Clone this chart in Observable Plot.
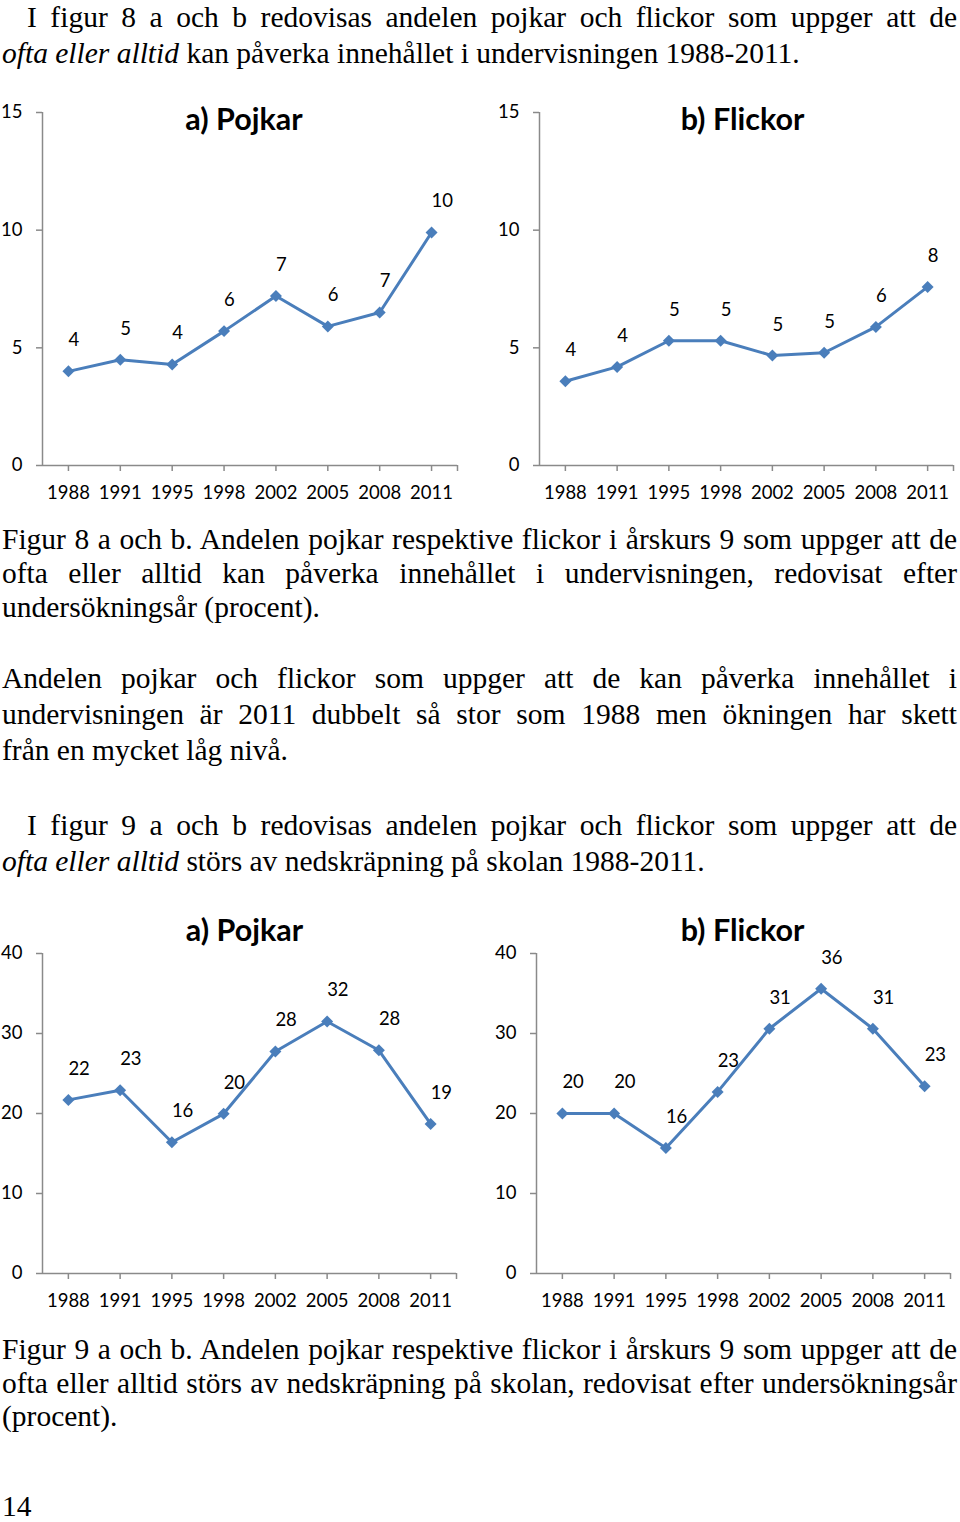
<!DOCTYPE html>
<html lang="sv">
<head>
<meta charset="utf-8">
<script src="https://cdn.jsdelivr.net/npm/d3@7"></script>
<script src="https://cdn.jsdelivr.net/npm/@observablehq/plot@0.6"></script>
<style>
  html, body { margin: 0; padding: 0; background: #fff; }
  #page { position: relative; width: 960px; height: 1522px; overflow: hidden;
          font-family: "Liberation Serif", "DejaVu Serif", serif; font-size: 29.5px; color: #000; }
  .blk { position: absolute; left: 2px; width: 955px; }
  .ln { white-space: nowrap; }
  .ind { padding-left: 25px; }
  .chart { position: absolute; width: 480px; height: 420px; }
  .chart svg { overflow: visible; }
</style>
</head>
<body>
<div id="page">
  <div class="blk" style="top:0px;line-height:35.5px;">
    <div class="ln j ind"><span>I figur 8 a och b redovisas andelen pojkar och flickor som uppger att de</span></div>
    <div class="ln"><span><i>ofta eller alltid</i> kan påverka innehållet i undervisningen 1988-2011.</span></div>
  </div>

  <div class="chart" id="c8a" style="left:0px;top:90px;"></div>
  <div class="chart" id="c8b" style="left:480px;top:90px;"></div>

  <div class="blk" style="top:522px;line-height:34px;">
    <div class="ln j"><span>Figur 8 a och b. Andelen pojkar respektive flickor i årskurs 9 som uppger att de</span></div>
    <div class="ln j"><span>ofta eller alltid kan påverka innehållet i undervisningen, redovisat efter</span></div>
    <div class="ln"><span>undersökningsår (procent).</span></div>
  </div>

  <div class="blk" style="top:660px;line-height:36px;">
    <div class="ln j"><span>Andelen pojkar och flickor som uppger att de kan påverka innehållet i</span></div>
    <div class="ln j"><span>undervisningen är 2011 dubbelt så stor som 1988 men ökningen har skett</span></div>
    <div class="ln"><span>från en mycket låg nivå.</span></div>
  </div>

  <div class="blk" style="top:807px;line-height:36px;">
    <div class="ln j ind"><span>I figur 9 a och b redovisas andelen pojkar och flickor som uppger att de</span></div>
    <div class="ln"><span><i>ofta eller alltid</i> störs av nedskräpning på skolan 1988-2011.</span></div>
  </div>

  <div class="chart" id="c9a" style="left:0px;top:900px;"></div>
  <div class="chart" id="c9b" style="left:480px;top:900px;"></div>

  <div class="blk" style="top:1333px;line-height:33.5px;">
    <div class="ln j"><span>Figur 9 a och b. Andelen pojkar respektive flickor i årskurs 9 som uppger att de</span></div>
    <div class="ln j"><span>ofta eller alltid störs av nedskräpning på skolan, redovisat efter undersökningsår</span></div>
    <div class="ln"><span>(procent).</span></div>
  </div>

  <div class="blk" style="top:1488px;line-height:36px;">
    <div class="ln"><span>14</span></div>
  </div>
</div>

<script>
// ---- data ----
const years = ["1988", "1991", "1995", "1998", "2002", "2005", "2008", "2011"];

const fig8Boys        = [4.0, 4.49, 4.29, 5.71, 7.2, 5.91, 6.5, 9.9];
const fig8BoysLabels  = [4, 5, 4, 6, 7, 6, 7, 10];
const fig8Girls       = [3.58, 4.19, 5.3, 5.3, 4.67, 4.79, 5.89, 7.59];
const fig8GirlsLabels = [4, 4, 5, 5, 5, 5, 6, 8];

const fig9Boys        = [21.7, 22.9, 16.4, 19.96, 27.75, 31.5, 27.9, 18.7];
const fig9BoysLabels  = [22, 23, 16, 20, 28, 32, 28, 19];
const fig9Girls       = [20.0, 20.0, 15.7, 22.7, 30.6, 35.6, 30.6, 23.4];
const fig9GirlsLabels = [20, 20, 16, 23, 31, 36, 31, 23];

const fig8Ticks = [0, 5, 10, 15];
const fig9Ticks = [0, 10, 20, 30, 40];
const titleBoys = "a) Pojkar";
const titleGirls = "b) Flickor";

// ---- chart ----
const gray = "#8a8a8a";
const blue = "#4A7EBB";

function lineChart(cfg) {
  const data = years.map((year, i) => ({i, year, value: cfg.values[i], label: String(cfg.labels[i])}));
  return Plot.plot({
    width: 480,
    height: 420,
    marginLeft: cfg.ml,
    marginRight: cfg.mr,
    marginTop: cfg.mt,
    marginBottom: cfg.mb,
    style: {fontFamily: "Lato, 'Open Sans', sans-serif", fontSize: "18.5px", background: "transparent", color: "#000", overflow: "visible"},
    x: {domain: [-0.5, years.length - 0.5]},
    y: {domain: [0, cfg.yMax]},
    marks: [
      Plot.axisY({ticks: cfg.yTicks, tickSize: 6, tickPadding: 14, stroke: gray, strokeWidth: 1.5, fill: "#000", label: null, tickFormat: d => String(d)}),
      Plot.axisX({ticks: [...d3.range(years.length), years.length - 0.5], tickFormat: i => years[i] ?? "", tickSize: 6, tickPadding: 14, stroke: gray, strokeWidth: 1.5, fill: "#000", label: null}),
      Plot.ruleX([-0.5], {stroke: gray, strokeWidth: 1.5}),
      Plot.ruleY([0], {stroke: gray, strokeWidth: 1.5}),
      Plot.line(data, {x: "i", y: "value", stroke: blue, strokeWidth: 3}),
      Plot.dot(data, {x: "i", y: "value", symbol: "diamond2", r: 5.4, fill: blue, stroke: "none"}),
      Plot.text(data, {x: "i", y: "value", text: "label", textAnchor: "start", dy: -31, fill: "#000"}),
      Plot.text([cfg.title], {frameAnchor: "top", lineAnchor: "middle", text: d => d, dx: cfg.tdx, dy: cfg.tdy, fontWeight: "bold", fontSize: 30.5, fill: "#000"})
    ]
  });
}

document.getElementById("c8a").append(lineChart({values: fig8Boys, labels: fig8BoysLabels, yMax: 15, yTicks: fig8Ticks, title: titleBoys, ml: 42, mr: 23, mt: 22, mb: 45, tdx: -6, tdy: 8}));
document.getElementById("c8b").append(lineChart({values: fig8Girls, labels: fig8GirlsLabels, yMax: 15, yTicks: fig8Ticks, title: titleGirls, ml: 59, mr: 7, mt: 22, mb: 45, tdx: -4, tdy: 8}));
document.getElementById("c9a").append(lineChart({values: fig9Boys, labels: fig9BoysLabels, yMax: 40, yTicks: fig9Ticks, title: titleBoys, ml: 42, mr: 24, mt: 53, mb: 47, tdx: -5, tdy: -22}));
document.getElementById("c9b").append(lineChart({values: fig9Girls, labels: fig9GirlsLabels, yMax: 40, yTicks: fig9Ticks, title: titleGirls, ml: 56, mr: 10, mt: 53, mb: 47, tdx: -1, tdy: -22}));

// ---- justify fixed lines ----
function justify() {
  document.querySelectorAll(".ln.j").forEach(el => {
    const span = el.firstElementChild;
    span.style.wordSpacing = "0px";
    const pad = parseFloat(getComputedStyle(el).paddingLeft) || 0;
    const avail = el.clientWidth - pad;
    const w = span.getBoundingClientRect().width;
    const spaces = (span.textContent.match(/ /g) || []).length;
    if (spaces > 0) span.style.wordSpacing = ((avail - w) / spaces) + "px";
  });
}
justify();
if (document.fonts && document.fonts.ready) document.fonts.ready.then(justify);
</script>
</body>
</html>
